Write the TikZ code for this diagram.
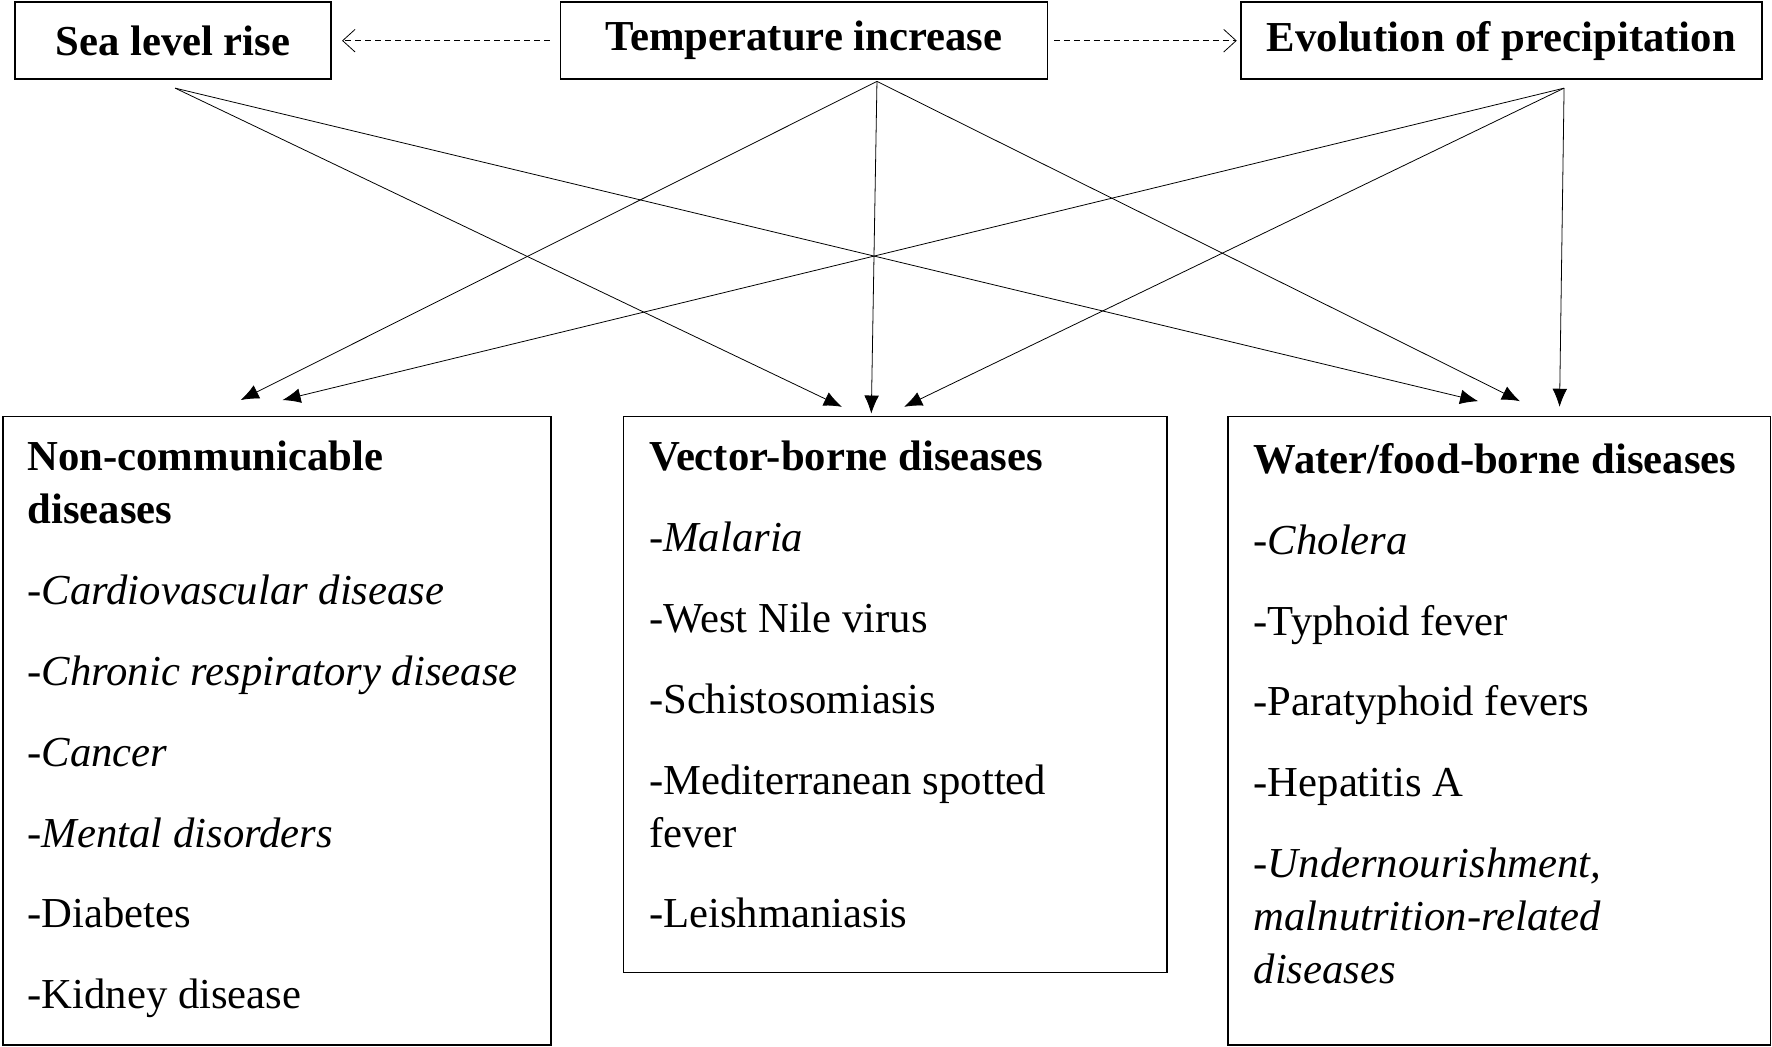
\documentclass[tikz,border=0pt]{standalone}
\usepackage{fontspec}
\setmainfont{Liberation Serif}
\usetikzlibrary{arrows.meta,positioning}
\tikzset{
  causebox/.style={draw, thick, inner sep=0pt, font=\fontsize{21.5}{26.7}\selectfont\bfseries},
  diseasebox/.style={draw, thick, anchor=north west, inner sep=0pt},
  boxtext/.style={anchor=north west, align=left, inner sep=0pt},
  link/.style={-{Latex[length=0.32cm,width=0.26cm]}, thin},
  maybe/.style={densely dashed, -{Straight Barb[length=0.22cm,width=0.4cm]}}
}
\newcommand{\gap}{\\[14pt]}
\begin{document}
\begin{tikzpicture}[x=0.02cm,y=-0.02cm, font=\fontsize{21.5}{26.7}\selectfont]
\useasboundingbox (0,0) rectangle (1568,926);

% climate drivers
\node[causebox, minimum width=5.6cm, minimum height=1.36cm] (sea) at (153,36) {Sea level rise};
\node[causebox, minimum width=8.62cm, minimum height=1.36cm] (temp) at (711.5,36) {Temperature increase};
\node[causebox, minimum width=9.22cm, minimum height=1.36cm] (rain) at (1328.5,36) {Evolution of precipitation};

\draw[maybe, shorten <=0.18cm, shorten >=0.18cm] (temp.west) -- (sea.east);
\draw[maybe, shorten <=0.1cm, shorten >=0.06cm] (temp.east) -- (rain.west);

% disease groups
\node[diseasebox, minimum width=9.7cm, minimum height=11.12cm] (ncd) at (2,368) {};
\node[diseasebox, minimum width=9.62cm, minimum height=9.84cm] (vbd) at (551,368) {};
\node[diseasebox, minimum width=9.6cm, minimum height=11.12cm] (wfd) at (1086,368) {};

\node[boxtext] (ncdtext) at (24,390) {\textbf{Non-communicable}\\\textbf{diseases}\gap
  -\textit{Cardiovascular disease}\gap
  -\textit{Chronic respiratory disease}\gap
  -\textit{Cancer}\gap
  -\textit{Mental disorders}\gap
  -Diabetes\gap
  -Kidney disease};
\node[boxtext] (vbdtext) at (574,390) {\textbf{Vector-borne diseases}\gap
  -\textit{Malaria}\gap
  -West Nile virus\gap
  -Schistosomiasis\gap
  -Mediterranean spotted\\fever\gap
  -Leishmaniasis};
\node[boxtext] (wfdtext) at (1109,392) {\textbf{Water/food-borne diseases}\gap
  -\textit{Cholera}\gap
  -Typhoid fever\gap
  -Paratyphoid fevers\gap
  -Hepatitis A\gap
  -\textit{Undernourishment,}\\\textit{malnutrition-related}\\\textit{diseases}};

% connector ends
\coordinate (seaout) at (155,78);
\coordinate (tempout) at (776,72);
\coordinate (rainout) at (1384,78);
\coordinate (ncdin1) at (213,354);
\coordinate (ncdin2) at (250,354);
\coordinate (vbdin1) at (745,360);
\coordinate (vbdin2) at (771,366);
\coordinate (vbdin3) at (800,360);
\coordinate (wfdin1) at (1308,355);
\coordinate (wfdin2) at (1345,355);
\coordinate (wfdin3) at (1380,360);

\draw[link] (seaout) -- (vbdin1);
\draw[link] (seaout) -- (wfdin1);
\draw[link] (tempout) -- (ncdin1);
\draw[link] (tempout) -- (vbdin2);
\draw[link] (tempout) -- (wfdin2);
\draw[link] (rainout) -- (ncdin2);
\draw[link] (rainout) -- (vbdin3);
\draw[link] (rainout) -- (wfdin3);

\end{tikzpicture}
\end{document}
